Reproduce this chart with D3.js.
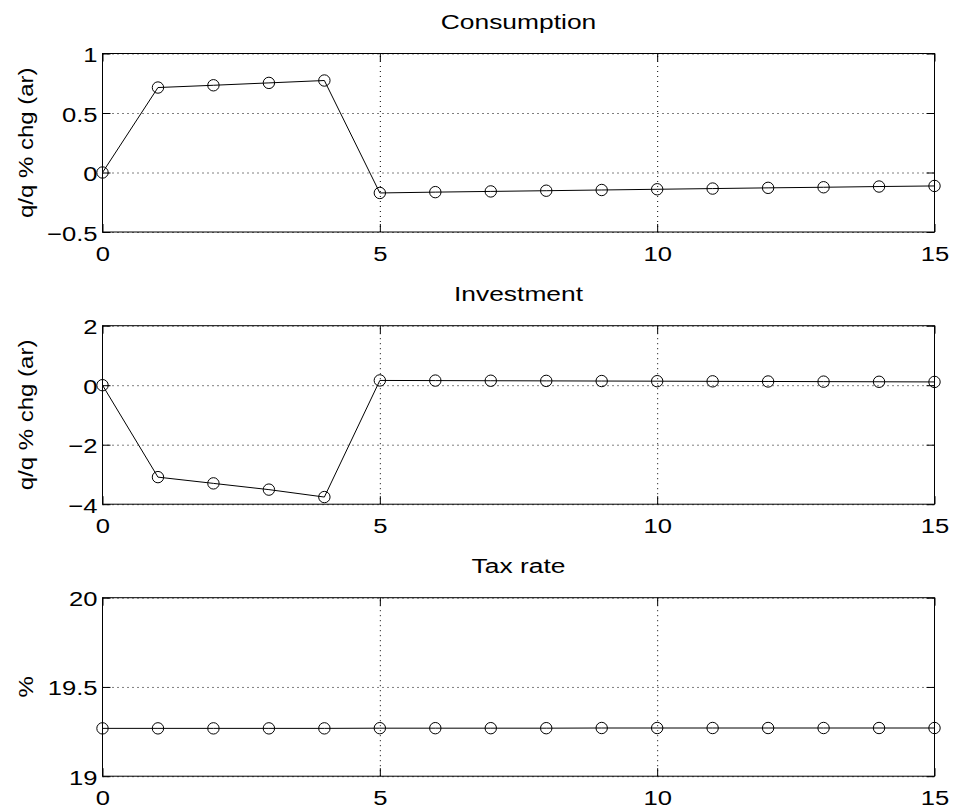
<!DOCTYPE html>
<html lang="en">
<head>
    <meta charset="UTF-8">
    <title>Consumption, Investment, Tax rate</title>
    <script src="https://d3js.org/d3.v7.min.js"></script>
    <style>
        body { margin: 0; background: white; }
        text {
            font-family: 'Liberation Sans', Arial, sans-serif;
            fill: black;
        }
        .grid line {
            stroke: black;
            stroke-width: 1;
            stroke-dasharray: 1,4;
        }
        .grid path { display: none; }
        .axis path, .axis line { stroke: black; stroke-width: 1; }
    </style>
</head>
<body>
<script>
    const width = 953;
    const height = 812;

    // horizon (quarters)
    const periods = d3.range(0, 16);
    const xTicks = [0, 5, 10, 15];

    const consumption = [0, 0.714, 0.733, 0.753, 0.773, -0.172, -0.165, -0.159, -0.153, -0.147, -0.141, -0.135, -0.129, -0.124, -0.118, -0.113];
    const investment  = [0, -3.09, -3.30, -3.51, -3.76, 0.16, 0.155, 0.15, 0.145, 0.14, 0.135, 0.13, 0.125, 0.12, 0.115, 0.11];
    const taxRate     = [19.268, 19.268, 19.268, 19.268, 19.268, 19.269, 19.269, 19.269, 19.269, 19.27, 19.27, 19.27, 19.27, 19.27, 19.27, 19.27];

    const titles  = ['Consumption', 'Investment', 'Tax rate'];
    const yLabels = ['q/q % chg (ar)', 'q/q % chg (ar)', '%'];
    const yDomains = [[-0.5, 1], [-4, 2], [19, 20]];
    const yTicks  = [[-0.5, 0, 0.5, 1], [-4, -2, 0, 2], [19, 19.5, 20]];
    const series  = [consumption, investment, taxRate];

    const left = 102.5, right = 934.5;
    const tops = [53.5, 325.7, 597.7];
    const panelH = 178.5;
    const tickLen = 8;
    const tickStretch = 1.22, titleStretch = 1.32, labelStretch = 1.2;

    const svg = d3.select("body").append("svg").attr("width", width).attr("height", height);

    const x = d3.scaleLinear().domain([0, 15]).range([left, right]);

    const fmt = d => d3.format("")(d).replace("-", "\u2212");

    series.forEach(function(values, p) {
        const top = tops[p], bottom = top + panelH;
        const y = d3.scaleLinear().domain(yDomains[p]).range([bottom, top]);
        const g = svg.append("g");

        // dotted grid
        g.append("g").attr("class", "grid")
            .attr("transform", `translate(${left},0)`)
            .call(d3.axisLeft(y).tickValues(yTicks[p]).tickSize(-(right - left)).tickFormat(""));
        g.append("g").attr("class", "grid")
            .attr("transform", `translate(0,${bottom})`)
            .call(d3.axisBottom(x).tickValues(xTicks.slice(1, -1)).tickSize(-panelH).tickFormat(""));

        // box with inward ticks on all sides
        g.append("rect")
            .attr("x", left).attr("y", top)
            .attr("width", right - left).attr("height", panelH)
            .style("fill", "none").style("stroke", "black").style("stroke-width", 1);

        const yAxis = g.append("g").attr("class", "axis")
            .attr("transform", `translate(${left},0)`)
            .call(d3.axisLeft(y).tickValues(yTicks[p]).tickSize(-tickLen).tickSizeOuter(0).tickFormat(fmt));
        g.append("g").attr("class", "axis")
            .attr("transform", `translate(${right},0)`)
            .call(d3.axisRight(y).tickValues(yTicks[p]).tickSize(-tickLen).tickSizeOuter(0).tickFormat(""));
        const xAxis = g.append("g").attr("class", "axis")
            .attr("transform", `translate(0,${bottom})`)
            .call(d3.axisBottom(x).tickValues(xTicks).tickSize(-tickLen).tickSizeOuter(0).tickFormat(d3.format("d")));
        g.append("g").attr("class", "axis")
            .attr("transform", `translate(0,${top})`)
            .call(d3.axisTop(x).tickValues(xTicks).tickSize(-tickLen).tickSizeOuter(0).tickFormat(""));

        g.selectAll(".axis path.domain").remove();

        yAxis.selectAll("text")
            .attr("x", null).attr("dy", null)
            .attr("font-size", 21).attr("font-family", null)
            .attr("transform", `translate(-5,8) scale(${tickStretch},1)`);
        xAxis.selectAll("text")
            .attr("y", null).attr("dy", null)
            .attr("font-size", 21).attr("font-family", null)
            .attr("transform", `translate(0,29) scale(${tickStretch},1)`);

        // title
        svg.append("text")
            .attr("text-anchor", "middle")
            .attr("font-size", 20)
            .attr("transform", `translate(${(left + right) / 2},${top - 25}) scale(${titleStretch},1)`)
            .text(titles[p]);

        // y label
        svg.append("text")
            .attr("text-anchor", "middle")
            .attr("font-size", 20)
            .attr("transform", `translate(33,${(top + bottom) / 2}) rotate(-90) scale(${labelStretch},1)`)
            .text(yLabels[p]);

        // line and markers
        const line = d3.line().x((d, i) => x(periods[i])).y(d => y(d));
        g.append("path").datum(values)
            .attr("d", line)
            .style("fill", "none").style("stroke", "black").style("stroke-width", 1);
        g.selectAll("circle.mark")
            .data(values).enter()
            .append("circle")
            .attr("class", "mark")
            .attr("cx", (d, i) => x(periods[i]))
            .attr("cy", d => y(d))
            .attr("r", 5.7)
            .style("fill", "none").style("stroke", "black").style("stroke-width", 1);
    });
</script>
</body>
</html>
